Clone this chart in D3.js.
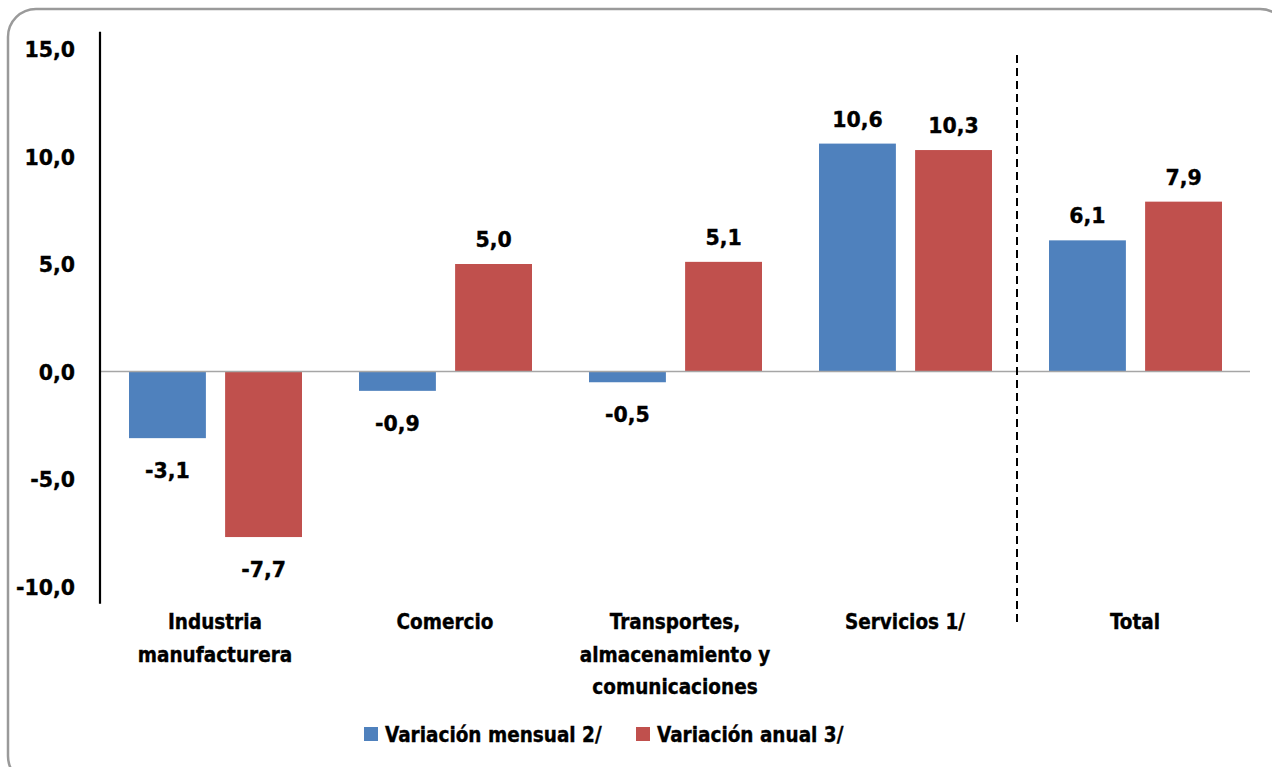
<!DOCTYPE html>
<html>
<head>
<meta charset="utf-8">
<script src="https://cdn.jsdelivr.net/npm/d3@7"></script>
<style>
  body { margin: 0; background: #fff; }
  svg { display: block; }
  .num { font-family: "DejaVu Sans", Verdana, sans-serif; font-weight: bold; font-size: 20.5px; fill: #000; stroke: #000; stroke-width: 0.35px; }
  .lbl { font-family: "DejaVu Sans Condensed", "DejaVu Sans", sans-serif; font-weight: bold; font-size: 20.5px; fill: #000; stroke: #000; stroke-width: 0.35px; }
</style>
</head>
<body>
<div class="chart"></div>
<script>
// data
var categories = ["Industria manufacturera", "Comercio", "Transportes, almacenamiento y comunicaciones", "Servicios 1/", "Total"];
var catLines = [["Industria", "manufacturera"], ["Comercio"], ["Transportes,", "almacenamiento y", "comunicaciones"], ["Servicios 1/"], ["Total"]];
var seriesNames = ["Variación mensual 2/", "Variación anual 3/"];
var mensual = [-3.1, -0.9, -0.5, 10.6, 6.1];
var anual = [-7.7, 5.0, 5.1, 10.3, 7.9];
var yTicks = [-10, -5, 0, 5, 10, 15];

var colors = ["#4f81bd", "#c0504d"];
var fullWidth = 1272, fullHeight = 767;

var svg = d3.select(".chart").append("svg")
    .attr("width", fullWidth)
    .attr("height", fullHeight);

// frame
svg.append("rect")
    .attr("x", 8).attr("y", 9)
    .attr("width", 1280).attr("height", 775)
    .attr("rx", 28).attr("ry", 28)
    .attr("fill", "#fff")
    .attr("stroke", "#9a9a9a")
    .attr("stroke-width", 2.5);

var fmt = function(v) { return d3.format(".1f")(v).replace(".", ",").replace("−", "-"); };

var xScale = d3.scaleBand()
    .domain(categories)
    .range([100, 1250]);

var xSub = d3.scaleBand()
    .domain([0, 1])
    .range([29, 202])
    .paddingInner(0.2);

var yScale = d3.scaleLinear()
    .domain([-10.8, 15.8])
    .range([603.7, 31.8]);

// y labels
svg.append("g").selectAll("text")
    .data(yTicks)
    .enter().append("text")
    .attr("class", "num")
    .attr("x", 75)
    .attr("y", function(d) { return yScale(d) + 8; })
    .attr("text-anchor", "end")
    .text(fmt);

// bars
var rows = categories.map(function(c, i) { return { cat: c, vals: [mensual[i], anual[i]] }; });

var groups = svg.append("g").selectAll("g")
    .data(rows)
    .enter().append("g")
    .attr("transform", function(d) { return "translate(" + xScale(d.cat) + ",0)"; });

groups.selectAll("rect")
    .data(function(d) { return d.vals; })
    .enter().append("rect")
    .attr("x", function(d, i) { return xSub(i); })
    .attr("width", xSub.bandwidth())
    .attr("y", function(d) { return yScale(Math.max(0, d)); })
    .attr("height", function(d) { return Math.abs(yScale(d) - yScale(0)); })
    .attr("fill", function(d, i) { return colors[i]; });

groups.selectAll("text")
    .data(function(d) { return d.vals; })
    .enter().append("text")
    .attr("class", "num")
    .attr("text-anchor", "middle")
    .attr("x", function(d, i) { return xSub(i) + xSub.bandwidth() / 2; })
    .attr("y", function(d) { return d >= 0 ? yScale(d) - 17 : yScale(d) + 40; })
    .text(fmt);

// zero line
svg.append("line")
    .attr("x1", 100).attr("x2", 1250)
    .attr("y1", yScale(0)).attr("y2", yScale(0))
    .attr("stroke", "#a6a6a6")
    .attr("stroke-width", 1.5);

// y axis line
svg.append("line")
    .attr("x1", 100).attr("x2", 100)
    .attr("y1", yScale(15.8)).attr("y2", yScale(-10.8))
    .attr("stroke", "#000")
    .attr("stroke-width", 2.2);

// dashed separator before Total
var sepX = xScale("Total") - 3;
svg.append("line")
    .attr("x1", sepX).attr("x2", sepX)
    .attr("y1", 55).attr("y2", 624)
    .attr("stroke", "#000")
    .attr("stroke-width", 2)
    .attr("stroke-dasharray", "8,5");

// category labels
var cl = svg.append("g").selectAll("text")
    .data(categories)
    .enter().append("text")
    .attr("class", "lbl")
    .attr("text-anchor", "middle")
    .attr("x", function(d) { return xScale(d) + xScale.bandwidth() / 2; })
    .attr("y", 629);

cl.selectAll("tspan")
    .data(function(d, i) { return catLines[i]; })
    .enter().append("tspan")
    .attr("x", function() { var c = d3.select(this.parentNode).datum(); return xScale(c) + xScale.bandwidth() / 2; })
    .attr("dy", function(d, i) { return i === 0 ? 0 : 32.5; })
    .text(function(d) { return d; });

// legend
var legendX = [364, 636];
var lg = svg.append("g").selectAll("g")
    .data(seriesNames)
    .enter().append("g")
    .attr("transform", function(d, i) { return "translate(" + legendX[i] + ",727)"; });

lg.append("rect")
    .attr("width", 14).attr("height", 14)
    .attr("fill", function(d, i) { return colors[i]; });

lg.append("text")
    .attr("class", "lbl")
    .attr("x", 21)
    .attr("y", 15)
    .text(function(d) { return d; });
</script>
</body>
</html>
